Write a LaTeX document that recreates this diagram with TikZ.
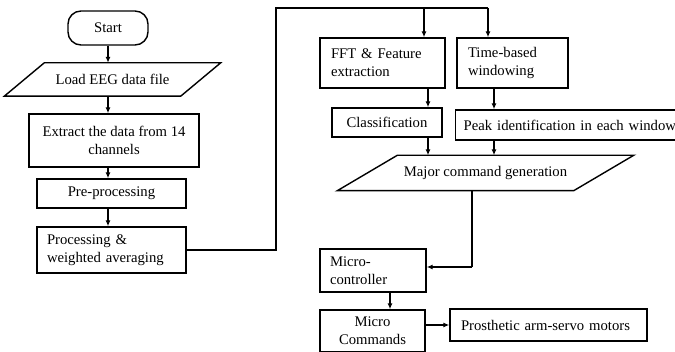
\documentclass[tikz,border=0pt]{standalone}
\usepackage{fontspec}
\setmainfont{Liberation Serif}
\usepackage{tikz}
\usetikzlibrary{shapes, arrows.meta, positioning}

\begin{document}
\begin{tikzpicture}[x=1pt,y=-1pt,font=\fontsize{14.7}{18}\selectfont]
        \useasboundingbox (0,0) rectangle (675,352);
        \begin{scope}[every node/.style={draw,line width=1.4pt,inner sep=0pt}]
          \node[rounded corners=13pt,minimum width=80pt,minimum height=34pt] (start) at (108,28) {Start};
          \node[draw=none,minimum width=215pt,minimum height=32pt] (load) at (112.5,79.5) {Load EEG data file};
          \node[align=center,minimum width=170pt,minimum height=53pt] (extract) at (114,140.5) {Extract the data from 14\\channels};
          \node[minimum width=149pt,minimum height=29pt] (pre) at (111.5,193.5) {Pre-processing};
          \node[align=left,inner xsep=10pt,text width=129pt,minimum height=46pt] (proc) at (111.5,250) {Processing \&\\weighted averaging};
          \node[align=left,inner xsep=11pt,text width=103pt,minimum height=50pt] (fft) at (382.5,63) {FFT \& Feature\\extraction};
          \node[align=left,inner xsep=11pt,text width=89pt,minimum height=50pt] (time) at (512.5,63) {Time-based\\windowing};
          \node[minimum width=110pt,minimum height=29pt] (class) at (387,122.5) {Classification};
          \node[anchor=west,align=left,inner xsep=8pt,text width=240pt,minimum height=30pt] (peak) at (455,125) {Peak identification in each window};
          \node[draw=none,minimum width=295pt,minimum height=34pt] (major) at (485.5,173) {Major command generation};
          \node[align=left,inner xsep=10pt,text width=86pt,minimum height=43pt] (mcu) at (373,270.5) {Micro-\\controller};
          \node[align=center,minimum width=105pt,minimum height=42pt] (cmds) at (372.5,331) {Micro\\Commands};
          \node[align=left,inner xsep=11pt,text width=175pt,minimum height=32pt] (arm) at (548.5,325) {Prosthetic arm-servo motors};
        \end{scope}
        % slanted data boxes
        \draw[line width=1.4pt] (load.south west) -- ([xshift=40pt]load.north west) -- (load.north east)
          -- ([xshift=-40pt]load.south east) -- cycle;
        \draw[line width=1.4pt] (major.south west) -- ([xshift=60pt]major.north west) -- (major.north east)
          -- ([xshift=-60pt]major.south east) -- cycle;
        % taps on the bus line and arrow columns
        \coordinate (bus) at (276,8);
        \coordinate (ffttap) at (424,8);
        \coordinate (timetap) at (488,8);
        \coordinate (c1) at (428,0);
        \coordinate (c2) at (494,0);
        \coordinate (c3) at (390,0);
        \coordinate (turn) at (472,267);
        \begin{scope}[every edge/.style={draw=black,line width=1.3pt,-{Latex[length=6pt,width=5pt]}}]
          \path (start.south) edge (start.south |- load.north);
          \path (load.south -| start) edge (extract.north -| start);
          \path (extract.south -| start) edge (pre.north -| start);
          \path (pre.south -| start) edge (proc.north -| start);
          \draw[line width=1.3pt] (proc.east) -| (bus) -- (timetap);
          \path (ffttap) edge (ffttap |- fft.north);
          \path (timetap) edge (timetap |- time.north);
          \path (fft.south -| c1) edge (class.north -| c1);
          \path (time.south -| c2) edge (peak.north -| c2);
          \path (class.south -| c1) edge (major.north -| c1);
          \path (peak.south -| c2) edge (major.north -| c2);
          \draw[line width=1.3pt] (major.south -| turn) -- (turn);
          \path (turn) edge (turn -| mcu.east);
          \path (mcu.south -| c3) edge (cmds.north -| c3);
          \path (cmds.east |- arm) edge (arm.west);
        \end{scope}
\end{tikzpicture}
\end{document}
